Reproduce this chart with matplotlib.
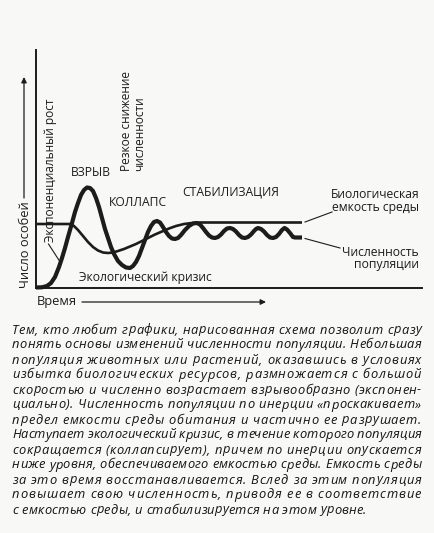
import matplotlib
matplotlib.use("Agg")
import matplotlib.pyplot as plt
from matplotlib.font_manager import FontProperties

# ---------------- data (arbitrary units) ----------------
pop_time = [0, 6, 11, 15, 19, 23, 26, 29, 32, 36, 39, 42, 45, 48, 51, 54, 57, 60, 63,
            66, 69, 72, 75, 78, 82, 86, 90, 94, 97, 100, 103, 106, 109, 112, 115, 118,
            121, 124, 127, 130, 133, 136, 139, 142, 145, 149, 153, 157, 161, 164, 167,
            170, 173, 176, 179, 182, 185, 188, 191, 194, 197, 200, 203, 206, 209, 212,
            215, 218, 220, 222, 225, 228, 231, 234, 237, 240, 243, 246, 248.5, 251, 254,
            257, 259, 266]
pop_value = [0.5, 0.7, 2, 5, 11, 21, 30, 40, 51, 65, 76, 85, 93, 98, 100.5, 100, 97, 90,
             81, 70, 59, 50, 41, 34, 27, 23, 20.5, 20, 22, 26, 32, 40, 48, 56, 62, 66,
             67, 65.5, 61, 56, 52, 49.5, 49, 50, 53, 58, 62, 64.5, 65, 63.5, 60, 56,
             52.5, 50.5, 50, 51, 53.5, 57, 59.5, 60, 59, 56.5, 53, 50.5, 50, 51, 53.5,
             57, 59, 60, 59, 56.5, 53, 50.5, 50, 51, 54, 58, 60, 58.5, 55, 51, 50.5, 50.5]

cap_time = [0, 34, 38, 42, 47, 52, 57, 62, 67, 72, 77, 82, 88, 94, 100, 106, 112, 119,
            126, 133, 140, 148, 156, 164, 266]
cap_value = [64, 64, 62, 58, 52, 46, 41, 37.5, 35.5, 35, 35.5, 37, 39, 41.5, 44, 47, 50,
             53.5, 56.5, 59.5, 62, 64, 65, 65.5, 65.5]

paragraph = [
    "Тем, кто любит графики, нарисованная схема позволит сразу",
    "понять основы изменений численности популяции. Небольшая",
    "популяция животных или растений, оказавшись в условиях",
    "избытка биологических ресурсов, размножается с большой",
    "скоростью и численно возрастает взрывообразно (экспонен-",
    "циально). Численность популяции по инерции «проскакивает»",
    "предел емкости среды обитания и частично ее разрушает.",
    "Наступает экологический кризис, в течение которого популяция",
    "сокращается (коллапсирует), причем по инерции опускается",
    "ниже уровня, обеспечиваемого емкостью среды. Емкость среды",
    "за это время восстанавливается. Вслед за этим популяция",
    "повышает свою численность, приводя ее в соответствие",
    "с емкостью среды, и стабилизируется на этом уровне.",
]

# ---------------- figure ----------------
W, H = 434, 533
BG = "#f8f8f6"
INK = "#1c1c1c"
FONT = ["Open Sans", "DejaVu Sans"]
plt.rcParams["font.family"] = FONT

fig = plt.figure(figsize=(W / 100, H / 100), dpi=100, facecolor=BG)

# main chart axes
x0, y0, x1, y1 = 36, 50, 422, 288
ax = fig.add_axes([x0 / W, (H - y1) / H, (x1 - x0) / W, (y1 - y0) / H])
ax.set_facecolor("none")
ax.set_xlim(0, x1 - x0)
ax.set_ylim(0, y1 - y0)
for s in ("top", "right"):
    ax.spines[s].set_visible(False)
for s in ("left", "bottom"):
    ax.spines[s].set_linewidth(1.4)
    ax.spines[s].set_color(INK)
ax.set_xticks([])
ax.set_yticks([])
ax.plot(cap_time, cap_value, color=INK, lw=1.9, solid_capstyle="butt",
        solid_joinstyle="round", clip_on=False)
ax.plot(pop_time, pop_value, color=INK, lw=3.0, solid_capstyle="butt",
        solid_joinstyle="round", clip_on=False)

# overlay in pixel coordinates for annotations
ov = fig.add_axes([0, 0, 1, 1])
ov.set_xlim(0, W)
ov.set_ylim(H, 0)
ov.axis("off")
ov.patch.set_alpha(0)

lab = dict(color=INK, fontsize=8.7)
ov.text(26, 245, "Число особей", rotation=90, ha="center", va="center",
        color=INK, fontsize=9.3)
ov.annotate("", xy=(24, 77), xytext=(24, 198),
            arrowprops=dict(arrowstyle="-|>", lw=0.9, color=INK, mutation_scale=8,
                            shrinkA=0, shrinkB=0))
ov.text(37, 302, "Время", ha="left", va="center", color=INK, fontsize=9.3)
ov.annotate("", xy=(266, 302), xytext=(82, 302),
            arrowprops=dict(arrowstyle="-|>", lw=0.9, color=INK, mutation_scale=8,
                            shrinkA=0, shrinkB=0))

ov.text(51, 242, "Экспоненциальный рост", rotation=90, ha="center", va="bottom",
        color=INK, fontsize=8.6)
ov.plot([48.5, 59.5], [244, 261], color=INK, lw=0.8)

ov.text(91, 172, "ВЗРЫВ", ha="center", va="center", **lab)
ov.text(127, 171, "Резкое снижение", rotation=90, ha="center", va="bottom",
        color=INK, fontsize=8.6)
ov.text(139.5, 171, "численности", rotation=90, ha="center", va="bottom",
        color=INK, fontsize=8.6)
ov.text(137.5, 203, "КОЛЛАПС", ha="center", va="center", **lab)
ov.text(230.5, 192, "СТАБИЛИЗАЦИЯ", ha="center", va="center", **lab)
ov.text(145, 278, "Экологический кризис", ha="center", va="center", **lab)

ov.text(419, 194, "Биологическая", ha="right", va="center", **lab)
ov.text(419, 207, "емкость среды", ha="right", va="center", **lab)
ov.plot([305, 332], [222, 212], color=INK, lw=0.8)
ov.text(419, 252, "Численность", ha="right", va="center", **lab)
ov.text(419, 264.5, "популяции", ha="right", va="center", **lab)
ov.plot([305, 340], [238.5, 248], color=INK, lw=0.8)

# ---------------- justified italic paragraph (word + letter spacing) ----------------
fig.canvas.draw()
renderer = fig.canvas.get_renderer()
L, R = 12, 421
base0, step = 333.5, 15.0
PINK = "#141414"


def make_tw(prop):
    def tw(s):
        w, h, d = renderer.get_text_width_height_descent(s, prop, ismath=False)
        return w
    return tw

probe = FontProperties(family=FONT, style="italic", size=10.0)
tw_probe = make_tw(probe)
widest = max(tw_probe(line) for line in paragraph[:-1])
psize = min(10.2, 10.0 * (R - L) / widest * 0.985)
prop = FontProperties(family=FONT, style="italic", size=psize)
tw = make_tw(prop)

for i, line in enumerate(paragraph):
    yb = base0 + i * step
    last = i == len(paragraph) - 1
    n = len(line)
    # weight of the gap following character j
    weights = [2.2 if line[j] == " " else (0.0 if line[j + 1] == " " else 1.0)
               for j in range(n - 1)]
    if last:
        unit = 0.25
    else:
        unit = ((R - L) - tw(line)) / sum(weights)
    shift = 0.0
    for k, ch in enumerate(line):
        if k > 0:
            shift += weights[k - 1] * unit
        if ch == " ":
            continue
        xr = L + tw(line[:k + 1]) + shift
        ov.text(xr, yb, ch, fontproperties=prop, color=PINK, ha="right", va="baseline")

fig.savefig("out.png", dpi=100, facecolor=BG)
